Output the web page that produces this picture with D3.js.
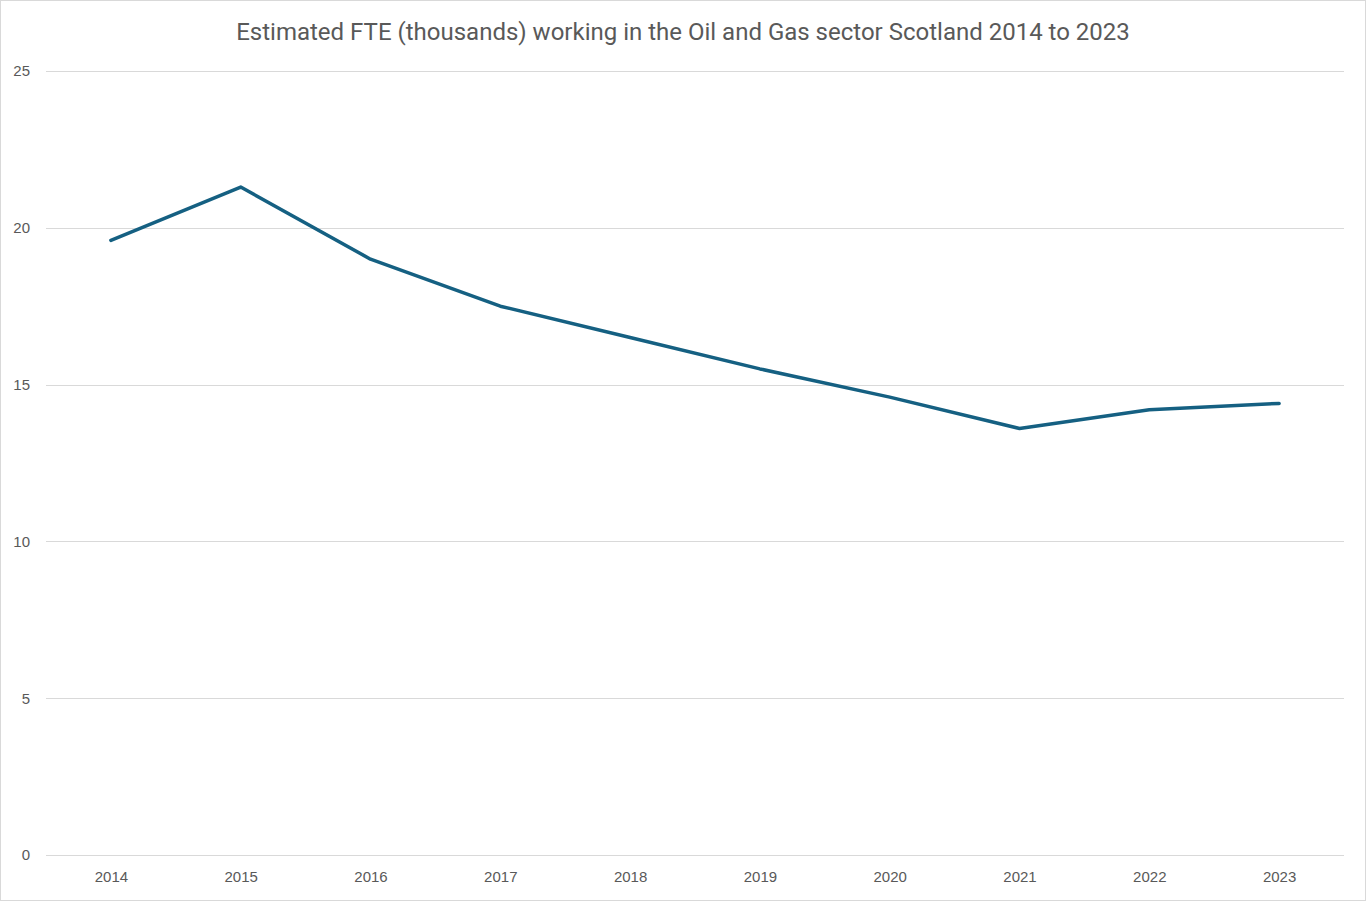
<!DOCTYPE html>
<html>
<head>
<meta charset="utf-8">
<script src="https://cdn.jsdelivr.net/npm/d3@7"></script>
<style>
  body { margin: 0; background: #fff; }
  svg { display: block; }
</style>
</head>
<body>
<script>
// values
var years = ["2014", "2015", "2016", "2017", "2018", "2019", "2020", "2021", "2022", "2023"];
var fte = [19.6, 21.3, 19.0, 17.5, 16.5, 15.5, 14.6, 13.6, 14.2, 14.4];
var yTicks = [0, 5, 10, 15, 20, 25];

var w = 1366, h = 901;
var margin = {top: 71, right: 22, bottom: 46, left: 46};

var svg = d3.select("body").append("svg")
  .attr("width", w)
  .attr("height", h);

// outer frame
svg.append("rect")
  .attr("x", 0.5).attr("y", 0.5)
  .attr("width", w - 1).attr("height", h - 1)
  .attr("fill", "#fff")
  .attr("stroke", "#d9d9d9");

var x = d3.scalePoint()
  .domain(years)
  .range([margin.left, w - margin.right])
  .padding(0.5);

var y = d3.scaleLinear()
  .domain([0, 25])
  .range([h - margin.bottom, margin.top]);

// gridlines
svg.append("g")
  .selectAll("line")
  .data(yTicks)
  .enter()
  .append("line")
  .attr("x1", margin.left)
  .attr("x2", w - margin.right)
  .attr("y1", function(d) { return Math.round(y(d)) + 0.5; })
  .attr("y2", function(d) { return Math.round(y(d)) + 0.5; })
  .attr("stroke", "#d9d9d9")
  .attr("stroke-width", 1);

// y labels
var yAxis = svg.append("g")
  .attr("transform", "translate(" + (margin.left - 16) + ",0)")
  .call(d3.axisLeft(y).tickValues(yTicks).tickSize(0).tickPadding(0));
yAxis.select(".domain").remove();
yAxis.selectAll("text")
  .attr("font-family", "Liberation Sans, Arial, sans-serif")
  .attr("font-size", 15)
  .attr("fill", "#595959");

// x labels
var xAxis = svg.append("g")
  .attr("transform", "translate(0," + (h - margin.bottom) + ")")
  .call(d3.axisBottom(x).tickSize(0).tickPadding(16));
xAxis.select(".domain").remove();
xAxis.selectAll("text")
  .attr("font-family", "Liberation Sans, Arial, sans-serif")
  .attr("font-size", 15)
  .attr("fill", "#595959");

// series line
var line = d3.line()
  .x(function(d, i) { return x(years[i]); })
  .y(function(d) { return y(d); });

svg.append("path")
  .datum(fte)
  .attr("d", line)
  .attr("fill", "none")
  .attr("stroke", "#156082")
  .attr("stroke-width", 3.5)
  .attr("stroke-linecap", "round")
  .attr("stroke-linejoin", "round");

// title
svg.append("text")
  .attr("x", 683)
  .attr("y", 40)
  .attr("text-anchor", "middle")
  .attr("font-family", "Roboto, sans-serif")
  .attr("font-size", 24)
  .attr("fill", "#595959")
  .text("Estimated FTE (thousands) working in the Oil and Gas sector Scotland 2014 to 2023");
</script>
</body>
</html>
